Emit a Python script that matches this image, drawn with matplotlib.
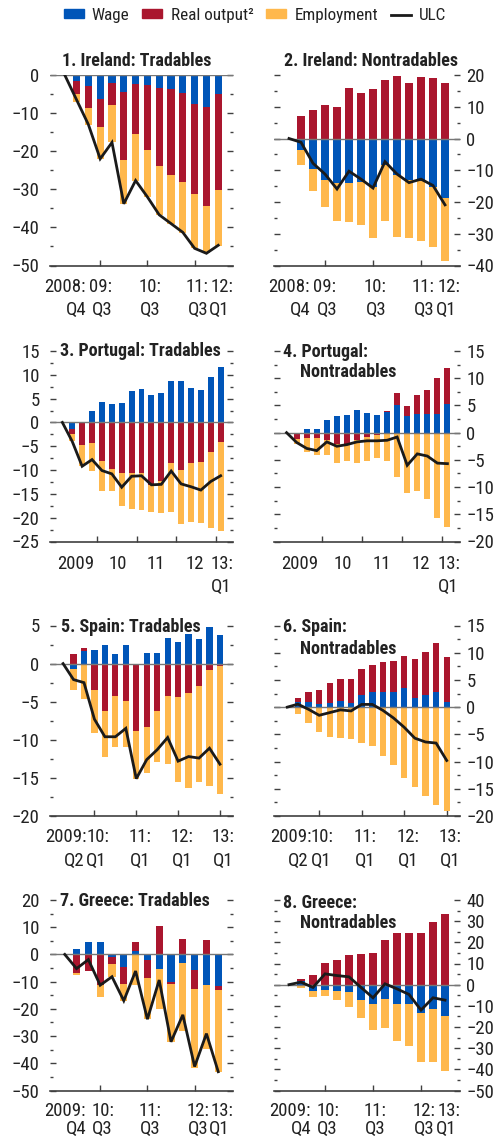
import matplotlib
matplotlib.use("Agg")
import matplotlib.pyplot as plt
import numpy as np
from matplotlib.patches import Patch
from matplotlib.lines import Line2D
from matplotlib.ticker import MultipleLocator

plt.rcParams['font.family'] = ['Roboto Condensed', 'DejaVu Sans']

# ---------------- data ----------------
# 1. Ireland: Tradables (2008Q4 base .. 2012Q1)
ire_t_wage = [-1.6, -2.9, -6.4, -2.1, -4.4, -2.3, -2.6, -3.3, -3.7, -4.7, -7.5, -8.4, -4.9]
ire_t_output = [-3.3, -5.7, -7.2, -5.9, -17.8, -13.2, -17.2, -20.7, -22.5, -23.4, -23.7, -25.9, -25.3]
ire_t_emp = [-2.1, -4.5, -8.4, -9.7, -11.6, -12.2, -12.3, -12.8, -13.0, -13.4, -14.3, -12.5, -14.6]
ire_t_ulc = [0, -6.5, -13.0, -22.0, -17.7, -33.8, -27.7, -32.0, -36.7, -39.0, -41.3, -45.5, -46.8, -44.7]

# 2. Ireland: Nontradables
ire_n_wage = [-3.7, -9.5, -13.0, -14.0, -13.9, -13.6, -15.4, -8.2, -11.4, -13.1, -13.5, -15.2, -18.6]
ire_n_output = [7.0, 8.9, 10.4, 9.8, 15.8, 14.2, 15.5, 18.4, 19.7, 17.5, 19.4, 19.0, 17.4]
ire_n_emp = [-4.8, -7.0, -8.7, -11.9, -12.4, -13.6, -15.9, -17.7, -19.5, -18.1, -18.8, -18.9, -20.0]
ire_n_ulc = [0, -1.2, -7.8, -11.2, -15.9, -10.3, -12.8, -15.6, -7.3, -11.2, -13.9, -12.8, -14.8, -20.9]

# 3. Portugal: Tradables (2009Q1 base .. 2013Q1)
por_t_wage = [-1.3, 0.0, 2.3, 4.2, 3.8, 4.0, 6.7, 7.1, 5.8, 6.2, 8.8, 8.6, 7.3, 6.9, 9.6, 11.7]
por_t_output = [-1.2, -4.8, -4.4, -8.2, -9.7, -10.7, -10.7, -10.7, -13.1, -12.2, -8.5, -9.9, -8.5, -8.3, -6.2, -4.1]
por_t_emp = [-1.4, -4.4, -5.8, -6.3, -4.8, -6.9, -7.4, -7.6, -5.8, -6.8, -10.4, -11.4, -12.5, -12.9, -15.9, -18.8]
por_t_ulc = [0, -4.0, -9.2, -7.8, -10.1, -10.8, -13.6, -11.3, -11.2, -13.1, -13.0, -10.2, -12.9, -13.5, -14.2, -12.4, -11.2]

# 4. Portugal: Nontradables
por_n_wage = [-0.2, 0.7, 0.7, 2.3, 3.0, 3.2, 4.1, 3.6, 3.2, 3.8, 5.1, 3.0, 3.4, 3.5, 3.4, 5.3]
por_n_output = [-1.0, -1.0, -1.0, -1.4, -2.1, -2.0, -1.3, -0.8, -0.5, 0.2, 2.2, 1.9, 3.5, 4.3, 6.6, 6.5]
por_n_emp = [-0.8, -2.6, -3.1, -2.7, -3.4, -3.3, -4.2, -4.4, -4.1, -5.3, -8.1, -11.0, -10.7, -12.1, -15.6, -17.4]
por_n_ulc = [0, -1.8, -2.9, -3.3, -1.7, -2.5, -2.2, -1.7, -1.5, -1.5, -1.4, -0.8, -6.0, -3.9, -4.3, -5.6, -5.7]

# 5. Spain: Tradables (2009Q2 base .. 2013Q1)
spa_t_wage = [-0.75, 1.6, 1.8, 2.5, 1.2, 2.5, 0.0, 1.4, 1.4, 3.4, 2.8, 3.9, 3.2, 4.8, 3.8]
spa_t_output = [1.3, 0.4, -3.4, -6.2, -4.3, -4.9, -8.9, -8.3, -6.2, -4.2, -4.4, -3.8, -2.9, -0.8, -0.35]
spa_t_emp = [-2.75, -4.6, -5.7, -6.0, -6.6, -6.1, -6.2, -6.0, -6.7, -9.0, -11.2, -12.5, -12.7, -15.2, -16.75]
spa_t_ulc = [0, -2.1, -2.5, -7.3, -9.6, -9.6, -8.5, -15.1, -12.6, -11.3, -9.7, -12.8, -12.2, -12.4, -11.1, -13.2]

# 6. Spain: Nontradables
spa_n_wage = [1.0, 0.9, 0.5, 0.7, 1.1, 0.7, 2.2, 2.8, 2.8, 2.8, 3.6, 1.7, 2.3, 2.8, 0.9]
spa_n_output = [0.6, 1.8, 2.6, 3.7, 4.0, 4.4, 4.8, 4.9, 5.5, 5.7, 5.8, 7.1, 7.8, 8.9, 8.3]
spa_n_emp = [-1.2, -3.0, -4.6, -5.4, -5.7, -5.9, -6.5, -7.2, -8.9, -10.6, -13.1, -14.6, -16.4, -18.0, -19.0]
spa_n_ulc = [0, 0.55, -0.4, -1.5, -1.0, -0.5, -0.7, 0.5, 0.5, -0.6, -2.0, -3.7, -5.7, -6.4, -6.6, -9.8]

# 7. Greece: Tradables (2009Q4 base .. 2013Q1)
gre_t_wage = [2.0, 4.4, 4.4, -0.9, -4.7, 1.4, -1.9, -5.2, -10.3, -3.3, -5.8, -11.2, -11.7]
gre_t_output = [-6.8, -6.1, -11.4, -2.5, -6.0, 3.3, -6.7, 10.5, -0.7, 5.8, -6.8, 5.4, -1.5]
gre_t_emp = [-0.7, 0.0, -4.2, -4.8, -6.4, -11.3, -15.2, -14.7, -21.1, -24.8, -29.1, -23.7, -30.1]
gre_t_ulc = [0, -5.2, -1.9, -11.3, -8.2, -17.0, -6.1, -23.8, -9.4, -32.1, -22.2, -41.2, -29.1, -43.1]

# 8. Greece: Nontradables
gre_n_wage = [1.7, -3.0, -2.7, -3.0, -3.6, -7.4, -9.1, -6.8, -9.3, -9.3, -13.5, -11.7, -14.9]
gre_n_output = [0.8, 4.6, 10.4, 11.8, 14.2, 14.6, 15.1, 21.2, 24.5, 24.5, 24.5, 29.7, 33.4]
gre_n_emp = [-1.7, -2.8, -2.8, -4.3, -7.0, -8.2, -12.3, -13.9, -17.2, -19.6, -22.9, -24.7, -25.7]
gre_n_ulc = [0, 1.2, -1.3, 5.1, 4.3, 3.7, -1.3, -6.2, 0.4, -2.0, -4.6, -12.0, -6.2, -7.3]

# x-axis tick marks and labels (index positions from base quarter)
ire_ticks = [3, 7, 11]
ire_lab1 = ["2008:", "09:", "10:", "11:", "12:"]
ire_lab1_pos = [0.0, 3.0, 7.2, 11.2, 13.3]
ire_lab2 = ["Q4", "Q3", "Q3", "Q3", "Q1"]
ire_lab2_pos = [0.95, 3.15, 7.25, 11.3, 13.1]

por_ticks = [3.5, 7.5, 11.5, 15.5]
por_lab1 = ["2009", "10", "11", "12", "13:"]
por_lab1_pos = [1.3, 5.6, 9.45, 13.4, 16.15]
por_lab2 = ["Q1"]
por_lab2_pos = [16.1]

spa_ticks = [3, 7, 11, 15]
spa_lab1 = ["2009:", "10:", "11:", "12:", "13:"]
spa_lab1_pos = [0.3, 3.3, 7.35, 11.35, 15.3]
spa_lab2 = ["Q2", "Q1", "Q1", "Q1", "Q1"]
spa_lab2_pos = [1.05, 3.15, 7.35, 11.35, 15.3]

gre_ticks = [3, 7, 11]
gre_lab1 = ["2009:", "10:", "11:", "12:", "13:"]
gre_lab1_pos = [0.05, 3.25, 7.2, 11.25, 13.3]
gre_lab2 = ["Q4", "Q3", "Q3", "Q3", "Q1"]
gre_lab2_pos = [1.0, 3.2, 7.2, 11.3, 13.1]

legend_labels = ["Wage", "Real output²", "Employment", "ULC"]

# ---------------- style ----------------
C_WAGE = "#0055B8"
C_OUT = "#AA162E"
C_EMP = "#FFB84C"
C_LINE = "#1a1a1a"
FS = 13.5
FS_TITLE = 13
FS_LEG = 12.3

W, H = 496, 1141
fig = plt.figure(figsize=(W / 100, H / 100), dpi=100)


def px_axes(left, top, width, height):
    return fig.add_axes([left / W, 1 - (top + height) / H, width / W, height / H])


def draw(ax, wage, output, emp, ulc, ylim, major, side, ticks, lab1, lab1_pos, lab2, lab2_pos,
         off1, off2):
    n = len(wage)
    x = np.arange(1, n + 1)
    pos_base = np.zeros(n)
    neg_base = np.zeros(n)
    for vals, col in [(wage, C_WAGE), (output, C_OUT), (emp, C_EMP)]:
        v = np.asarray(vals, float)
        bottom = np.where(v >= 0, pos_base, neg_base)
        ax.bar(x, v, width=0.6, bottom=bottom, color=col, linewidth=0, zorder=2)
        pos_base += np.where(v > 0, v, 0)
        neg_base += np.where(v < 0, v, 0)
    ax.axhline(0, color="#777777", lw=1.0, zorder=3)
    ax.plot(np.arange(0, n + 1), ulc, color=C_LINE, lw=2.0, zorder=4,
            solid_joinstyle="miter")
    ax.set_xlim(-1.25, n + 1.25)
    ax.set_ylim(*ylim)
    for s in ["left", "right", "top"]:
        ax.spines[s].set_visible(False)
    ax.spines["bottom"].set_color("#404040")
    ax.spines["bottom"].set_linewidth(1.2)
    ax.yaxis.set_major_locator(MultipleLocator(major))
    ax.yaxis.set_minor_locator(MultipleLocator(major / 2))
    ax.tick_params(axis="y", which="both", direction="in", left=True, right=True,
                   colors="#404040", labelcolor="#222222", labelsize=FS, width=1.0)
    ax.tick_params(axis="y", which="major", length=4.0)
    ax.tick_params(axis="y", which="minor", length=2.2)
    if side == "left":
        ax.tick_params(axis="y", labelleft=True, labelright=False, pad=7.5)
    else:
        ax.tick_params(axis="y", labelleft=False, labelright=True, pad=4.5)
    ax.set_xticks(ticks)
    ax.set_xticklabels([])
    ax.tick_params(axis="x", direction="in", length=4.0, width=1.0, color="#404040")
    for s, p in zip(lab1, lab1_pos):
        ax.annotate(s, xy=(p, 0), xycoords=("data", "axes fraction"),
                    xytext=(0, off1), textcoords="offset points",
                    ha="center", va="baseline", fontsize=FS, color="#222222")
    for s, p in zip(lab2, lab2_pos):
        ax.annotate(s, xy=(p, 0), xycoords=("data", "axes fraction"),
                    xytext=(0, off2), textcoords="offset points",
                    ha="center", va="baseline", fontsize=FS, color="#222222")


LX, LW = 50, 183
RX, RW = 274, 186
AH = 190.5
tops = [75, 351, 625.5, 900]
# baseline offsets (points) of the two x-label lines, per row
offs = [(-18.8, -35.8), (-19.5, -36.3), (-18.5, -36.0), (-18.0, -31.3)]

panels = [
    (LX, LW, 0, ire_t_wage, ire_t_output, ire_t_emp, ire_t_ulc, (-50, 0), 10, "left",
     ire_ticks, ire_lab1, ire_lab1_pos, ire_lab2, ire_lab2_pos),
    (RX, RW, 0, ire_n_wage, ire_n_output, ire_n_emp, ire_n_ulc, (-40, 20), 10, "right",
     ire_ticks, ire_lab1, ire_lab1_pos, ire_lab2, ire_lab2_pos),
    (LX, LW, 1, por_t_wage, por_t_output, por_t_emp, por_t_ulc, (-25, 15), 5, "left",
     por_ticks, por_lab1, por_lab1_pos, por_lab2, por_lab2_pos),
    (RX, RW, 1, por_n_wage, por_n_output, por_n_emp, por_n_ulc, (-20, 15), 5, "right",
     por_ticks, por_lab1, por_lab1_pos, por_lab2, por_lab2_pos),
    (LX, LW, 2, spa_t_wage, spa_t_output, spa_t_emp, spa_t_ulc, (-20, 5), 5, "left",
     spa_ticks, spa_lab1, spa_lab1_pos, spa_lab2, spa_lab2_pos),
    (RX, RW, 2, spa_n_wage, spa_n_output, spa_n_emp, spa_n_ulc, (-20, 15), 5, "right",
     spa_ticks, spa_lab1, spa_lab1_pos, spa_lab2, spa_lab2_pos),
    (LX, LW, 3, gre_t_wage, gre_t_output, gre_t_emp, gre_t_ulc, (-50, 20), 10, "left",
     gre_ticks, gre_lab1, gre_lab1_pos, gre_lab2, gre_lab2_pos),
    (RX, RW, 3, gre_n_wage, gre_n_output, gre_n_emp, gre_n_ulc, (-50, 40), 10, "right",
     gre_ticks, gre_lab1, gre_lab1_pos, gre_lab2, gre_lab2_pos),
]

for (lx, lw, row, w_, o_, e_, u_, yl, mj, side, tk, l1, l1p, l2, l2p) in panels:
    ax = px_axes(lx, tops[row], lw, AH)
    draw(ax, w_, o_, e_, u_, yl, mj, side, tk, l1, l1p, l2, l2p, offs[row][0], offs[row][1])

# panel titles (x px, baseline y px)
titles = [
    ("1. Ireland: Tradables", 61.5, 65.5),
    ("2. Ireland: Nontradables", 283.5, 65.5),
    ("3. Portugal: Tradables", 60, 356.5),
    ("4. Portugal:", 283, 357),
    ("Nontradables", 300, 377),
    ("5. Spain: Tradables", 61, 631.5),
    ("6. Spain:", 283, 631.5),
    ("Nontradables", 300, 654),
    ("7. Greece: Tradables", 60, 906.5),
    ("8. Greece:", 283, 907.5),
    ("Nontradables", 300, 928),
]
for s, x, y in titles:
    fig.text(x / W, 1 - y / H, s, ha="left", va="baseline", fontsize=FS_TITLE,
             fontweight="bold", color="#222222")

handles = [Patch(color=C_WAGE), Patch(color=C_OUT), Patch(color=C_EMP),
           Line2D([0], [0], color=C_LINE, lw=2.0)]
fig.legend(handles, legend_labels, loc="center", bbox_to_anchor=(255 / W, 1 - 15.5 / H),
           ncol=4, frameon=False, fontsize=FS_LEG, handlelength=1.17, handleheight=0.42,
           handletextpad=0.47, columnspacing=0.76, borderpad=0, borderaxespad=0,
           labelcolor="#222222")

fig.savefig("out.png", dpi=100)
